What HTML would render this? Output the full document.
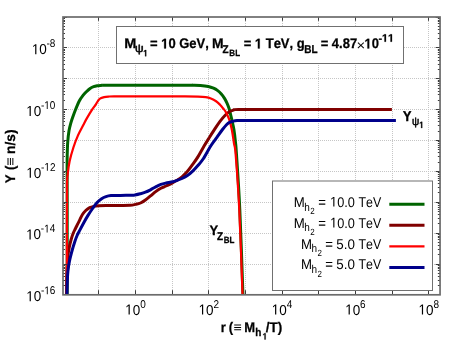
<!DOCTYPE html><html><head><meta charset="utf-8"><title>plot</title><style>
html,body{margin:0;padding:0;background:#fff;}svg{display:block;}
text{font-family:"Liberation Sans",sans-serif;fill:#000;text-rendering:geometricPrecision;font-kerning:none;}
.b{font-weight:bold;stroke:#000;stroke-width:0.25px;}
</style></head><body>
<svg width="463" height="354" viewBox="0 0 463 354">
<rect x="0" y="0" width="463" height="354" fill="#fff"/>
<g stroke="#c6c6c6" stroke-width="1" stroke-dasharray="1 1" fill="none" shape-rendering="crispEdges">
<line x1="98.50" y1="17.00" x2="98.50" y2="294.00"/>
<line x1="135.50" y1="17.00" x2="135.50" y2="294.00"/>
<line x1="172.50" y1="17.00" x2="172.50" y2="294.00"/>
<line x1="208.50" y1="17.00" x2="208.50" y2="294.00"/>
<line x1="245.50" y1="17.00" x2="245.50" y2="294.00"/>
<line x1="282.50" y1="17.00" x2="282.50" y2="294.00"/>
<line x1="318.50" y1="17.00" x2="318.50" y2="294.00"/>
<line x1="355.50" y1="17.00" x2="355.50" y2="294.00"/>
<line x1="392.50" y1="17.00" x2="392.50" y2="294.00"/>
<line x1="428.50" y1="17.00" x2="428.50" y2="294.00"/>
<line x1="64.00" y1="264.50" x2="439.00" y2="264.50"/>
<line x1="64.00" y1="233.50" x2="439.00" y2="233.50"/>
<line x1="64.00" y1="202.50" x2="439.00" y2="202.50"/>
<line x1="64.00" y1="171.50" x2="439.00" y2="171.50"/>
<line x1="64.00" y1="140.50" x2="439.00" y2="140.50"/>
<line x1="64.00" y1="109.50" x2="439.00" y2="109.50"/>
<line x1="64.00" y1="78.50" x2="439.00" y2="78.50"/>
<line x1="64.00" y1="47.50" x2="439.00" y2="47.50"/>
</g>
<defs><filter id="nf" x="0" y="0" width="463" height="354" filterUnits="userSpaceOnUse"><feOffset dx="0" dy="0"/></filter><clipPath id="cp"><rect x="63.00" y="17.00" width="377.05" height="277.80"/></clipPath></defs>
<g clip-path="url(#cp)" fill="none" stroke-linejoin="round" stroke-linecap="butt">
<path d="M67.20 296.00 C67.20 280.00 67.22 221.00 67.20 200.00 C67.18 179.00 67.10 177.33 67.10 170.00 C67.10 162.67 67.10 160.62 67.20 156.00 C67.30 151.38 67.40 146.50 67.70 142.30 C68.00 138.10 68.48 133.98 69.00 130.80 C69.52 127.62 70.17 125.50 70.80 123.20 C71.43 120.90 72.00 119.28 72.80 117.00 C73.60 114.72 74.50 112.22 75.60 109.50 C76.70 106.78 78.17 103.05 79.40 100.70 C80.63 98.35 81.83 96.90 83.00 95.40 C84.17 93.90 85.22 92.87 86.40 91.70 C87.58 90.53 88.90 89.23 90.10 88.40 C91.30 87.57 92.42 87.13 93.60 86.70 C94.78 86.27 96.02 86.01 97.20 85.80 C98.38 85.59 99.53 85.53 100.70 85.45 C101.87 85.38 99.32 85.37 104.20 85.35 C109.08 85.33 116.53 85.36 130.00 85.35 C143.47 85.34 174.53 85.31 185.00 85.30 C195.47 85.29 190.22 85.27 192.80 85.30 C195.38 85.33 197.92 85.30 200.50 85.50 C203.08 85.70 206.13 86.05 208.30 86.50 C210.47 86.95 211.98 87.55 213.50 88.20 C215.02 88.85 216.10 89.43 217.40 90.40 C218.70 91.37 220.12 92.67 221.30 94.00 C222.48 95.33 223.53 96.85 224.50 98.40 C225.47 99.95 226.35 101.67 227.10 103.30 C227.85 104.93 228.47 106.52 229.00 108.20 C229.53 109.88 229.78 111.28 230.30 113.40 C230.82 115.52 231.50 118.22 232.10 120.90 C232.70 123.58 233.35 126.05 233.90 129.50 C234.45 132.95 234.97 137.42 235.40 141.60 C235.83 145.78 235.77 143.27 236.50 154.60 C237.23 165.93 238.72 186.03 239.80 209.60 C240.88 233.17 242.47 281.60 243.00 296.00" stroke="#006400" stroke-width="3"/>
<path d="M66.50 296.00 C66.55 292.50 66.62 280.83 66.80 275.00 C66.98 269.17 67.38 264.50 67.60 261.00 C67.82 257.50 67.82 256.32 68.10 254.00 C68.38 251.68 68.82 249.43 69.30 247.10 C69.78 244.77 70.35 242.30 71.00 240.00 C71.65 237.70 72.45 235.22 73.20 233.30 C73.95 231.38 74.72 230.10 75.50 228.50 C76.28 226.90 77.15 225.22 77.90 223.70 C78.65 222.18 79.27 220.88 80.00 219.40 C80.73 217.92 81.34 216.28 82.30 214.80 C83.26 213.32 84.52 211.68 85.75 210.50 C86.98 209.32 88.38 208.38 89.70 207.70 C91.02 207.02 92.17 206.73 93.65 206.40 C95.13 206.07 96.54 205.87 98.60 205.70 C100.66 205.53 102.77 205.45 106.00 205.40 C109.23 205.35 114.00 205.42 118.00 205.40 C122.00 205.38 127.08 205.47 130.00 205.30 C132.92 205.13 133.75 204.78 135.50 204.40 C137.25 204.02 138.85 203.73 140.50 203.00 C142.15 202.27 143.73 201.18 145.40 200.00 C147.07 198.82 148.78 197.30 150.50 195.90 C152.22 194.50 153.97 192.87 155.70 191.60 C157.43 190.33 159.17 189.23 160.90 188.30 C162.63 187.37 164.37 186.78 166.10 186.00 C167.83 185.22 169.57 184.50 171.30 183.60 C173.03 182.70 174.72 181.73 176.50 180.60 C178.28 179.47 180.20 178.30 182.00 176.80 C183.80 175.30 185.55 173.62 187.30 171.60 C189.05 169.58 190.73 167.15 192.50 164.70 C194.27 162.25 195.97 160.02 197.90 156.90 C199.83 153.78 202.17 149.27 204.10 146.00 C206.03 142.73 207.68 140.18 209.50 137.30 C211.32 134.42 213.22 131.40 215.00 128.70 C216.78 126.00 218.50 123.35 220.20 121.10 C221.90 118.85 223.68 116.77 225.20 115.20 C226.72 113.63 227.92 112.55 229.30 111.70 C230.68 110.85 231.97 110.47 233.50 110.10 C235.03 109.73 231.58 109.61 238.50 109.50 C245.42 109.39 249.43 109.46 275.00 109.45 C300.57 109.44 372.42 109.45 391.90 109.45" stroke="#800000" stroke-width="3"/>
<path d="M66.90 296.00 C66.90 285.00 66.88 248.57 66.90 230.00 C66.92 211.43 66.85 194.03 67.00 184.60 C67.15 175.17 67.37 177.28 67.80 173.40 C68.23 169.52 68.67 165.62 69.60 161.30 C70.53 156.98 72.00 151.82 73.40 147.50 C74.80 143.18 76.35 139.15 78.00 135.40 C79.65 131.65 81.83 127.83 83.30 125.00 C84.77 122.17 85.33 120.95 86.80 118.40 C88.27 115.85 90.58 112.05 92.10 109.70 C93.62 107.35 94.78 105.97 95.90 104.30 C97.02 102.63 98.00 100.70 98.80 99.70 C99.60 98.70 99.80 98.73 100.70 98.30 C101.60 97.87 102.92 97.38 104.20 97.10 C105.48 96.82 106.77 96.72 108.40 96.60 C110.03 96.48 107.07 96.43 114.00 96.40 C120.93 96.37 138.17 96.40 150.00 96.40 C161.83 96.40 177.00 96.37 185.00 96.40 C193.00 96.43 194.55 96.47 198.00 96.60 C201.45 96.73 203.55 96.88 205.70 97.20 C207.85 97.52 209.17 97.83 210.90 98.50 C212.63 99.17 214.58 100.17 216.10 101.20 C217.62 102.23 218.82 103.48 220.00 104.70 C221.18 105.92 222.22 107.25 223.20 108.50 C224.18 109.75 224.92 110.42 225.90 112.20 C226.88 113.98 228.12 116.32 229.10 119.20 C230.08 122.08 230.98 125.47 231.80 129.50 C232.62 133.53 233.35 139.22 234.00 143.40 C234.65 147.58 234.82 143.57 235.70 154.60 C236.58 165.63 238.15 186.03 239.30 209.60 C240.45 233.17 242.05 281.60 242.60 296.00" stroke="#ff0000" stroke-width="2.25"/>
<path d="M66.90 296.00 C66.97 293.60 67.13 285.72 67.30 281.60 C67.47 277.48 67.53 274.75 67.90 271.30 C68.27 267.85 68.80 264.37 69.50 260.90 C70.20 257.43 71.23 253.67 72.10 250.50 C72.97 247.33 73.83 244.48 74.70 241.90 C75.57 239.32 76.58 236.68 77.30 235.00 C78.02 233.32 77.97 233.77 79.00 231.80 C80.03 229.83 82.00 225.93 83.50 223.20 C85.00 220.47 86.48 217.85 88.00 215.40 C89.52 212.95 91.08 210.65 92.60 208.50 C94.12 206.35 95.60 204.13 97.10 202.50 C98.60 200.87 100.12 199.68 101.60 198.70 C103.08 197.72 104.43 197.12 106.00 196.60 C107.57 196.08 108.60 195.80 111.00 195.60 C113.40 195.40 116.82 195.45 120.40 195.40 C123.98 195.35 130.07 195.37 132.50 195.30 C134.93 195.23 133.72 195.25 135.00 195.00 C136.28 194.75 138.47 194.27 140.20 193.80 C141.93 193.33 143.68 192.87 145.40 192.20 C147.12 191.53 148.78 190.70 150.50 189.80 C152.22 188.90 153.97 187.70 155.70 186.80 C157.43 185.90 159.17 185.03 160.90 184.40 C162.63 183.77 164.37 183.40 166.10 183.00 C167.83 182.60 169.57 182.40 171.30 182.00 C173.03 181.60 174.72 181.18 176.50 180.60 C178.28 180.02 180.18 179.33 182.00 178.50 C183.82 177.67 185.62 176.83 187.40 175.60 C189.18 174.37 190.95 172.78 192.70 171.10 C194.45 169.42 196.17 167.52 197.90 165.50 C199.63 163.48 200.97 162.25 203.10 159.00 C205.23 155.75 208.40 149.62 210.70 146.00 C213.00 142.38 214.93 140.05 216.90 137.30 C218.87 134.55 220.90 131.60 222.50 129.50 C224.10 127.40 225.25 125.92 226.50 124.70 C227.75 123.48 228.83 122.80 230.00 122.20 C231.17 121.60 232.33 121.37 233.50 121.10 C234.67 120.83 235.75 120.71 237.00 120.60 C238.25 120.49 238.83 120.45 241.00 120.42 C243.17 120.39 244.33 120.40 250.00 120.40 C255.67 120.40 250.68 120.40 275.00 120.40 C299.32 120.40 375.75 120.40 395.90 120.40" stroke="#00008b" stroke-width="3"/>
</g>
<g stroke="#3c3c3c" stroke-width="1" fill="none">
<line x1="63.00" y1="294.50" x2="67.00" y2="294.50"/>
<line x1="440.05" y1="294.50" x2="435.65" y2="294.50"/>
<line x1="63.00" y1="285.50" x2="65.00" y2="285.50"/>
<line x1="440.05" y1="285.50" x2="437.85" y2="285.50"/>
<line x1="63.00" y1="280.50" x2="65.00" y2="280.50"/>
<line x1="440.05" y1="280.50" x2="437.85" y2="280.50"/>
<line x1="63.00" y1="276.50" x2="65.00" y2="276.50"/>
<line x1="440.05" y1="276.50" x2="437.85" y2="276.50"/>
<line x1="63.00" y1="273.50" x2="65.00" y2="273.50"/>
<line x1="440.05" y1="273.50" x2="437.85" y2="273.50"/>
<line x1="63.00" y1="270.50" x2="65.00" y2="270.50"/>
<line x1="440.05" y1="270.50" x2="437.85" y2="270.50"/>
<line x1="63.00" y1="268.50" x2="65.00" y2="268.50"/>
<line x1="440.05" y1="268.50" x2="437.85" y2="268.50"/>
<line x1="63.00" y1="267.50" x2="65.00" y2="267.50"/>
<line x1="440.05" y1="267.50" x2="437.85" y2="267.50"/>
<line x1="63.00" y1="265.50" x2="65.00" y2="265.50"/>
<line x1="440.05" y1="265.50" x2="437.85" y2="265.50"/>
<line x1="63.00" y1="264.50" x2="67.00" y2="264.50"/>
<line x1="440.05" y1="264.50" x2="435.65" y2="264.50"/>
<line x1="63.00" y1="254.50" x2="65.00" y2="254.50"/>
<line x1="440.05" y1="254.50" x2="437.85" y2="254.50"/>
<line x1="63.00" y1="249.50" x2="65.00" y2="249.50"/>
<line x1="440.05" y1="249.50" x2="437.85" y2="249.50"/>
<line x1="63.00" y1="245.50" x2="65.00" y2="245.50"/>
<line x1="440.05" y1="245.50" x2="437.85" y2="245.50"/>
<line x1="63.00" y1="242.50" x2="65.00" y2="242.50"/>
<line x1="440.05" y1="242.50" x2="437.85" y2="242.50"/>
<line x1="63.00" y1="239.50" x2="65.00" y2="239.50"/>
<line x1="440.05" y1="239.50" x2="437.85" y2="239.50"/>
<line x1="63.00" y1="237.50" x2="65.00" y2="237.50"/>
<line x1="440.05" y1="237.50" x2="437.85" y2="237.50"/>
<line x1="63.00" y1="236.50" x2="65.00" y2="236.50"/>
<line x1="440.05" y1="236.50" x2="437.85" y2="236.50"/>
<line x1="63.00" y1="234.50" x2="65.00" y2="234.50"/>
<line x1="440.05" y1="234.50" x2="437.85" y2="234.50"/>
<line x1="63.00" y1="233.50" x2="67.00" y2="233.50"/>
<line x1="440.05" y1="233.50" x2="435.65" y2="233.50"/>
<line x1="63.00" y1="223.50" x2="65.00" y2="223.50"/>
<line x1="440.05" y1="223.50" x2="437.85" y2="223.50"/>
<line x1="63.00" y1="218.50" x2="65.00" y2="218.50"/>
<line x1="440.05" y1="218.50" x2="437.85" y2="218.50"/>
<line x1="63.00" y1="214.50" x2="65.00" y2="214.50"/>
<line x1="440.05" y1="214.50" x2="437.85" y2="214.50"/>
<line x1="63.00" y1="211.50" x2="65.00" y2="211.50"/>
<line x1="440.05" y1="211.50" x2="437.85" y2="211.50"/>
<line x1="63.00" y1="209.50" x2="65.00" y2="209.50"/>
<line x1="440.05" y1="209.50" x2="437.85" y2="209.50"/>
<line x1="63.00" y1="207.50" x2="65.00" y2="207.50"/>
<line x1="440.05" y1="207.50" x2="437.85" y2="207.50"/>
<line x1="63.00" y1="205.50" x2="65.00" y2="205.50"/>
<line x1="440.05" y1="205.50" x2="437.85" y2="205.50"/>
<line x1="63.00" y1="203.50" x2="65.00" y2="203.50"/>
<line x1="440.05" y1="203.50" x2="437.85" y2="203.50"/>
<line x1="63.00" y1="202.50" x2="67.00" y2="202.50"/>
<line x1="440.05" y1="202.50" x2="435.65" y2="202.50"/>
<line x1="63.00" y1="192.50" x2="65.00" y2="192.50"/>
<line x1="440.05" y1="192.50" x2="437.85" y2="192.50"/>
<line x1="63.00" y1="187.50" x2="65.00" y2="187.50"/>
<line x1="440.05" y1="187.50" x2="437.85" y2="187.50"/>
<line x1="63.00" y1="183.50" x2="65.00" y2="183.50"/>
<line x1="440.05" y1="183.50" x2="437.85" y2="183.50"/>
<line x1="63.00" y1="180.50" x2="65.00" y2="180.50"/>
<line x1="440.05" y1="180.50" x2="437.85" y2="180.50"/>
<line x1="63.00" y1="178.50" x2="65.00" y2="178.50"/>
<line x1="440.05" y1="178.50" x2="437.85" y2="178.50"/>
<line x1="63.00" y1="176.50" x2="65.00" y2="176.50"/>
<line x1="440.05" y1="176.50" x2="437.85" y2="176.50"/>
<line x1="63.00" y1="174.50" x2="65.00" y2="174.50"/>
<line x1="440.05" y1="174.50" x2="437.85" y2="174.50"/>
<line x1="63.00" y1="172.50" x2="65.00" y2="172.50"/>
<line x1="440.05" y1="172.50" x2="437.85" y2="172.50"/>
<line x1="63.00" y1="171.50" x2="67.00" y2="171.50"/>
<line x1="440.05" y1="171.50" x2="435.65" y2="171.50"/>
<line x1="63.00" y1="162.50" x2="65.00" y2="162.50"/>
<line x1="440.05" y1="162.50" x2="437.85" y2="162.50"/>
<line x1="63.00" y1="156.50" x2="65.00" y2="156.50"/>
<line x1="440.05" y1="156.50" x2="437.85" y2="156.50"/>
<line x1="63.00" y1="152.50" x2="65.00" y2="152.50"/>
<line x1="440.05" y1="152.50" x2="437.85" y2="152.50"/>
<line x1="63.00" y1="149.50" x2="65.00" y2="149.50"/>
<line x1="440.05" y1="149.50" x2="437.85" y2="149.50"/>
<line x1="63.00" y1="147.50" x2="65.00" y2="147.50"/>
<line x1="440.05" y1="147.50" x2="437.85" y2="147.50"/>
<line x1="63.00" y1="145.50" x2="65.00" y2="145.50"/>
<line x1="440.05" y1="145.50" x2="437.85" y2="145.50"/>
<line x1="63.00" y1="143.50" x2="65.00" y2="143.50"/>
<line x1="440.05" y1="143.50" x2="437.85" y2="143.50"/>
<line x1="63.00" y1="141.50" x2="65.00" y2="141.50"/>
<line x1="440.05" y1="141.50" x2="437.85" y2="141.50"/>
<line x1="63.00" y1="140.50" x2="67.00" y2="140.50"/>
<line x1="440.05" y1="140.50" x2="435.65" y2="140.50"/>
<line x1="63.00" y1="131.50" x2="65.00" y2="131.50"/>
<line x1="440.05" y1="131.50" x2="437.85" y2="131.50"/>
<line x1="63.00" y1="125.50" x2="65.00" y2="125.50"/>
<line x1="440.05" y1="125.50" x2="437.85" y2="125.50"/>
<line x1="63.00" y1="121.50" x2="65.00" y2="121.50"/>
<line x1="440.05" y1="121.50" x2="437.85" y2="121.50"/>
<line x1="63.00" y1="118.50" x2="65.00" y2="118.50"/>
<line x1="440.05" y1="118.50" x2="437.85" y2="118.50"/>
<line x1="63.00" y1="116.50" x2="65.00" y2="116.50"/>
<line x1="440.05" y1="116.50" x2="437.85" y2="116.50"/>
<line x1="63.00" y1="114.50" x2="65.00" y2="114.50"/>
<line x1="440.05" y1="114.50" x2="437.85" y2="114.50"/>
<line x1="63.00" y1="112.50" x2="65.00" y2="112.50"/>
<line x1="440.05" y1="112.50" x2="437.85" y2="112.50"/>
<line x1="63.00" y1="111.50" x2="65.00" y2="111.50"/>
<line x1="440.05" y1="111.50" x2="437.85" y2="111.50"/>
<line x1="63.00" y1="109.50" x2="67.00" y2="109.50"/>
<line x1="440.05" y1="109.50" x2="435.65" y2="109.50"/>
<line x1="63.00" y1="100.50" x2="65.00" y2="100.50"/>
<line x1="440.05" y1="100.50" x2="437.85" y2="100.50"/>
<line x1="63.00" y1="94.50" x2="65.00" y2="94.50"/>
<line x1="440.05" y1="94.50" x2="437.85" y2="94.50"/>
<line x1="63.00" y1="91.50" x2="65.00" y2="91.50"/>
<line x1="440.05" y1="91.50" x2="437.85" y2="91.50"/>
<line x1="63.00" y1="88.50" x2="65.00" y2="88.50"/>
<line x1="440.05" y1="88.50" x2="437.85" y2="88.50"/>
<line x1="63.00" y1="85.50" x2="65.00" y2="85.50"/>
<line x1="440.05" y1="85.50" x2="437.85" y2="85.50"/>
<line x1="63.00" y1="83.50" x2="65.00" y2="83.50"/>
<line x1="440.05" y1="83.50" x2="437.85" y2="83.50"/>
<line x1="63.00" y1="81.50" x2="65.00" y2="81.50"/>
<line x1="440.05" y1="81.50" x2="437.85" y2="81.50"/>
<line x1="63.00" y1="80.50" x2="65.00" y2="80.50"/>
<line x1="440.05" y1="80.50" x2="437.85" y2="80.50"/>
<line x1="63.00" y1="78.50" x2="67.00" y2="78.50"/>
<line x1="440.05" y1="78.50" x2="435.65" y2="78.50"/>
<line x1="63.00" y1="69.50" x2="65.00" y2="69.50"/>
<line x1="440.05" y1="69.50" x2="437.85" y2="69.50"/>
<line x1="63.00" y1="64.50" x2="65.00" y2="64.50"/>
<line x1="440.05" y1="64.50" x2="437.85" y2="64.50"/>
<line x1="63.00" y1="60.50" x2="65.00" y2="60.50"/>
<line x1="440.05" y1="60.50" x2="437.85" y2="60.50"/>
<line x1="63.00" y1="57.50" x2="65.00" y2="57.50"/>
<line x1="440.05" y1="57.50" x2="437.85" y2="57.50"/>
<line x1="63.00" y1="54.50" x2="65.00" y2="54.50"/>
<line x1="440.05" y1="54.50" x2="437.85" y2="54.50"/>
<line x1="63.00" y1="52.50" x2="65.00" y2="52.50"/>
<line x1="440.05" y1="52.50" x2="437.85" y2="52.50"/>
<line x1="63.00" y1="50.50" x2="65.00" y2="50.50"/>
<line x1="440.05" y1="50.50" x2="437.85" y2="50.50"/>
<line x1="63.00" y1="49.50" x2="65.00" y2="49.50"/>
<line x1="440.05" y1="49.50" x2="437.85" y2="49.50"/>
<line x1="63.00" y1="47.50" x2="67.00" y2="47.50"/>
<line x1="440.05" y1="47.50" x2="435.65" y2="47.50"/>
<line x1="63.00" y1="38.50" x2="65.00" y2="38.50"/>
<line x1="440.05" y1="38.50" x2="437.85" y2="38.50"/>
<line x1="63.00" y1="33.50" x2="65.00" y2="33.50"/>
<line x1="440.05" y1="33.50" x2="437.85" y2="33.50"/>
<line x1="63.00" y1="29.50" x2="65.00" y2="29.50"/>
<line x1="440.05" y1="29.50" x2="437.85" y2="29.50"/>
<line x1="63.00" y1="26.50" x2="65.00" y2="26.50"/>
<line x1="440.05" y1="26.50" x2="437.85" y2="26.50"/>
<line x1="63.00" y1="23.50" x2="65.00" y2="23.50"/>
<line x1="440.05" y1="23.50" x2="437.85" y2="23.50"/>
<line x1="63.00" y1="21.50" x2="65.00" y2="21.50"/>
<line x1="440.05" y1="21.50" x2="437.85" y2="21.50"/>
<line x1="63.00" y1="20.50" x2="65.00" y2="20.50"/>
<line x1="440.05" y1="20.50" x2="437.85" y2="20.50"/>
<line x1="63.00" y1="18.50" x2="65.00" y2="18.50"/>
<line x1="440.05" y1="18.50" x2="437.85" y2="18.50"/>
<line x1="63.00" y1="17.50" x2="67.00" y2="17.50"/>
<line x1="440.05" y1="17.50" x2="435.65" y2="17.50"/>
<line x1="98.50" y1="294.80" x2="98.50" y2="290.20"/>
<line x1="98.50" y1="17.00" x2="98.50" y2="20.80"/>
<line x1="135.50" y1="294.80" x2="135.50" y2="290.20"/>
<line x1="135.50" y1="17.00" x2="135.50" y2="20.80"/>
<line x1="172.50" y1="294.80" x2="172.50" y2="290.20"/>
<line x1="172.50" y1="17.00" x2="172.50" y2="20.80"/>
<line x1="208.50" y1="294.80" x2="208.50" y2="290.20"/>
<line x1="208.50" y1="17.00" x2="208.50" y2="20.80"/>
<line x1="245.50" y1="294.80" x2="245.50" y2="290.20"/>
<line x1="245.50" y1="17.00" x2="245.50" y2="20.80"/>
<line x1="282.50" y1="294.80" x2="282.50" y2="290.20"/>
<line x1="282.50" y1="17.00" x2="282.50" y2="20.80"/>
<line x1="318.50" y1="294.80" x2="318.50" y2="290.20"/>
<line x1="318.50" y1="17.00" x2="318.50" y2="20.80"/>
<line x1="355.50" y1="294.80" x2="355.50" y2="290.20"/>
<line x1="355.50" y1="17.00" x2="355.50" y2="20.80"/>
<line x1="392.50" y1="294.80" x2="392.50" y2="290.20"/>
<line x1="392.50" y1="17.00" x2="392.50" y2="20.80"/>
<line x1="428.50" y1="294.80" x2="428.50" y2="290.20"/>
<line x1="428.50" y1="17.00" x2="428.50" y2="20.80"/>
</g>
<rect x="63.00" y="17.00" width="377.05" height="277.80" fill="none" stroke="#6c6c6c" stroke-width="1.7"/>
<rect x="116.5" y="26.5" width="287" height="37" fill="#fff" stroke="#707070" stroke-width="1"/>
<rect x="272.5" y="181" width="160" height="109.5" fill="#fff" stroke="#707070" stroke-width="1"/>
<g filter="url(#nf)">
<g class="t" transform="translate(40.99,294.20) scale(1.000,1.130)"><text x="0.00" y="0" font-size="10" xml:space="preserve">-</text><path transform="translate(3.33,0) scale(0.00488,-0.00488)" d="M515 0V1237L197 1010V1180L530 1409H696V0Z"/><text x="8.89" y="0" font-size="10" xml:space="preserve">6</text></g>
<g class="t" transform="translate(26.24,301.20) scale(1.000,1.070)"><path transform="translate(0.00,0) scale(0.00659,-0.00659)" d="M515 0V1237L197 1010V1180L530 1409H696V0Z"/><text x="7.51" y="0" font-size="13.5" xml:space="preserve">0</text></g>
<g class="t" transform="translate(40.84,232.45) scale(1.000,1.130)"><text x="0.00" y="0" font-size="10" xml:space="preserve">-</text><path transform="translate(3.33,0) scale(0.00488,-0.00488)" d="M515 0V1237L197 1010V1180L530 1409H696V0Z"/><text x="8.89" y="0" font-size="10" xml:space="preserve">4</text></g>
<g class="t" transform="translate(26.10,239.45) scale(1.000,1.070)"><path transform="translate(0.00,0) scale(0.00659,-0.00659)" d="M515 0V1237L197 1010V1180L530 1409H696V0Z"/><text x="7.51" y="0" font-size="13.5" xml:space="preserve">0</text></g>
<g class="t" transform="translate(41.05,170.70) scale(1.000,1.130)"><text x="0.00" y="0" font-size="10" xml:space="preserve">-</text><path transform="translate(3.33,0) scale(0.00488,-0.00488)" d="M515 0V1237L197 1010V1180L530 1409H696V0Z"/><text x="8.89" y="0" font-size="10" xml:space="preserve">2</text></g>
<g class="t" transform="translate(26.31,177.70) scale(1.000,1.070)"><path transform="translate(0.00,0) scale(0.00659,-0.00659)" d="M515 0V1237L197 1010V1180L530 1409H696V0Z"/><text x="7.51" y="0" font-size="13.5" xml:space="preserve">0</text></g>
<g class="t" transform="translate(40.94,108.95) scale(1.000,1.130)"><text x="0.00" y="0" font-size="10" xml:space="preserve">-</text><path transform="translate(3.33,0) scale(0.00488,-0.00488)" d="M515 0V1237L197 1010V1180L530 1409H696V0Z"/><text x="8.89" y="0" font-size="10" xml:space="preserve">0</text></g>
<g class="t" transform="translate(26.19,115.95) scale(1.000,1.070)"><path transform="translate(0.00,0) scale(0.00659,-0.00659)" d="M515 0V1237L197 1010V1180L530 1409H696V0Z"/><text x="7.51" y="0" font-size="13.5" xml:space="preserve">0</text></g>
<g class="t" transform="translate(46.54,47.20) scale(1.000,1.130)"><text x="0.00" y="0" font-size="10" xml:space="preserve">-8</text></g>
<g class="t" transform="translate(31.80,54.20) scale(1.000,1.070)"><path transform="translate(0.00,0) scale(0.00659,-0.00659)" d="M515 0V1237L197 1010V1180L530 1409H696V0Z"/><text x="7.51" y="0" font-size="13.5" xml:space="preserve">0</text></g>
<g class="t" transform="translate(125.17,314.50) scale(1.000,1.070)"><path transform="translate(0.00,0) scale(0.00659,-0.00659)" d="M515 0V1237L197 1010V1180L530 1409H696V0Z"/><text x="7.51" y="0" font-size="13.5" xml:space="preserve">0</text></g>
<g class="t" transform="translate(140.16,308.00) scale(1.000,1.130)"><text x="0.00" y="0" font-size="10" xml:space="preserve">0</text></g>
<g class="t" transform="translate(198.60,314.50) scale(1.000,1.070)"><path transform="translate(0.00,0) scale(0.00659,-0.00659)" d="M515 0V1237L197 1010V1180L530 1409H696V0Z"/><text x="7.51" y="0" font-size="13.5" xml:space="preserve">0</text></g>
<g class="t" transform="translate(213.48,308.00) scale(1.000,1.130)"><text x="0.00" y="0" font-size="10" xml:space="preserve">2</text></g>
<g class="t" transform="translate(271.68,314.50) scale(1.000,1.070)"><path transform="translate(0.00,0) scale(0.00659,-0.00659)" d="M515 0V1237L197 1010V1180L530 1409H696V0Z"/><text x="7.51" y="0" font-size="13.5" xml:space="preserve">0</text></g>
<g class="t" transform="translate(286.84,308.00) scale(1.000,1.130)"><text x="0.00" y="0" font-size="10" xml:space="preserve">4</text></g>
<g class="t" transform="translate(345.21,314.50) scale(1.000,1.070)"><path transform="translate(0.00,0) scale(0.00659,-0.00659)" d="M515 0V1237L197 1010V1180L530 1409H696V0Z"/><text x="7.51" y="0" font-size="13.5" xml:space="preserve">0</text></g>
<g class="t" transform="translate(360.09,308.00) scale(1.000,1.130)"><text x="0.00" y="0" font-size="10" xml:space="preserve">6</text></g>
<g class="t" transform="translate(418.49,314.50) scale(1.000,1.070)"><path transform="translate(0.00,0) scale(0.00659,-0.00659)" d="M515 0V1237L197 1010V1180L530 1409H696V0Z"/><text x="7.51" y="0" font-size="13.5" xml:space="preserve">0</text></g>
<g class="t" transform="translate(433.44,308.00) scale(1.000,1.130)"><text x="0.00" y="0" font-size="10" xml:space="preserve">8</text></g>
<g class="t" transform="translate(14.6,183.3) rotate(-90) translate(0.08,0.00) scale(1.000,1.070)"><text x="0.00" y="0" font-size="13" xml:space="preserve" class="b">Y</text></g>
<g class="t" transform="translate(14.6,183.3) rotate(-90) translate(13.25,0.00) scale(1.000,1.070)"><text x="0.00" y="0" font-size="13" xml:space="preserve" class="b">(</text></g>
<g class="t" transform="translate(14.6,183.3) rotate(-90) translate(17.60,0.00) scale(1.108,1.070)"><text x="0.00" y="0" font-size="13" xml:space="preserve">≡</text></g>
<g class="t" transform="translate(14.6,183.3) rotate(-90) translate(29.39,0.00) scale(1.060,1.070)"><text x="0.00" y="0" font-size="13" xml:space="preserve" class="b">n/s)</text></g>
<g class="t" transform="translate(220.74,332.30) scale(1.000,1.070)"><text x="0.00" y="0" font-size="13" xml:space="preserve" class="b">r</text></g>
<g class="t" transform="translate(228.75,332.30) scale(1.000,1.070)"><text x="0.00" y="0" font-size="13" xml:space="preserve" class="b">(</text></g>
<g class="t" transform="translate(233.41,332.30) scale(1.092,1.070)"><text x="0.00" y="0" font-size="13" xml:space="preserve">≡</text></g>
<g class="t" transform="translate(244.13,332.30) scale(1.000,1.070)"><text x="0.00" y="0" font-size="13" xml:space="preserve" class="b">M</text></g>
<g class="t" transform="translate(255.20,336.00) scale(1.000,1.130)"><text x="0.00" y="0" font-size="10" xml:space="preserve" class="b">h</text></g>
<g class="t" transform="translate(262.65,339.50) scale(1.000,1.130)"><path transform="translate(0.00,0) scale(0.00391,-0.00391)" d="M478 0V1170L140 959V1180L493 1409H759V0Z" stroke="#000" stroke-width="64"/></g>
<g class="t" transform="translate(265.87,332.30) scale(1.039,1.070)"><text x="0.00" y="0" font-size="13" xml:space="preserve" class="b">/T)</text></g>
<g class="t" transform="translate(124.23,48.40) scale(1.111,1.070)"><text x="0.00" y="0" font-size="13" xml:space="preserve" class="b">M</text></g>
<g class="t" transform="translate(135.11,52.20) scale(1.206,1.120)"><text x="0.00" y="0" font-size="10" xml:space="preserve" style="stroke:#000;stroke-width:0.45px">ψ</text></g>
<g class="t" transform="translate(143.25,56.30) scale(1.000,1.130)"><path transform="translate(0.00,0) scale(0.00391,-0.00391)" d="M478 0V1170L140 959V1180L493 1409H759V0Z" stroke="#000" stroke-width="64"/></g>
<g class="t" transform="translate(149.96,48.40) scale(1.000,1.070)"><text x="0.00" y="0" font-size="13" xml:space="preserve" class="b">= </text><path transform="translate(11.20,0) scale(0.00635,-0.00635)" d="M478 0V1170L140 959V1180L493 1409H759V0Z" stroke="#000" stroke-width="39"/><text x="18.43" y="0" font-size="13" xml:space="preserve" class="b">0 GeV,</text></g>
<g class="t" transform="translate(211.97,48.40) scale(1.067,1.070)"><text x="0.00" y="0" font-size="13" xml:space="preserve" class="b">M</text></g>
<g class="t" transform="translate(222.60,52.70) scale(1.000,1.130)"><text x="0.00" y="0" font-size="10" xml:space="preserve" class="b">Z</text></g>
<g class="t" transform="translate(229.36,56.30) scale(1.000,1.130)"><text x="0.00" y="0" font-size="8" xml:space="preserve" class="b">BL</text></g>
<g class="t" transform="translate(243.66,48.40) scale(1.000,1.070)"><text x="0.00" y="0" font-size="13" xml:space="preserve" class="b">= </text><path transform="translate(11.20,0) scale(0.00635,-0.00635)" d="M478 0V1170L140 959V1180L493 1409H759V0Z" stroke="#000" stroke-width="39"/><text x="18.43" y="0" font-size="13" xml:space="preserve" class="b"> TeV,</text></g>
<g class="t" transform="translate(296.67,48.40) scale(1.000,1.070)"><text x="0.00" y="0" font-size="13" xml:space="preserve" class="b">g</text></g>
<g class="t" transform="translate(304.23,52.70) scale(1.000,1.130)"><text x="0.00" y="0" font-size="10" xml:space="preserve" class="b">BL</text></g>
<g class="t" transform="translate(320.66,48.40) scale(1.000,1.070)"><text x="0.00" y="0" font-size="13" xml:space="preserve" class="b">= 4.87</text></g>
<g class="t" transform="translate(356.57,50.30) scale(1.139,1.070)"><text x="0.00" y="0" font-size="13" xml:space="preserve">×</text></g>
<g class="t" transform="translate(364.41,48.40) scale(1.000,1.070)"><path transform="translate(0.00,0) scale(0.00635,-0.00635)" d="M478 0V1170L140 959V1180L493 1409H759V0Z" stroke="#000" stroke-width="39"/><text x="7.23" y="0" font-size="13" xml:space="preserve" class="b">0</text></g>
<g class="t" transform="translate(378.38,41.70) scale(1.081,1.070)"><text x="0.00" y="0" font-size="10" xml:space="preserve" class="b">-</text><path transform="translate(3.33,0) scale(0.00488,-0.00488)" d="M478 0V1170L140 959V1180L493 1409H759V0Z" stroke="#000" stroke-width="51"/><path transform="translate(8.89,0) scale(0.00488,-0.00488)" d="M478 0V1170L140 959V1180L493 1409H759V0Z" stroke="#000" stroke-width="51"/></g>
<g class="t" transform="translate(403.08,120.90) scale(0.970,1.100)"><text x="0.00" y="0" font-size="13" xml:space="preserve" class="b" style="stroke:#000;stroke-width:0.4px">Y</text></g>
<g class="t" transform="translate(412.03,125.20) scale(1.016,1.120)"><text x="0.00" y="0" font-size="10" xml:space="preserve" style="stroke:#000;stroke-width:0.45px">ψ</text></g>
<g class="t" transform="translate(419.25,128.00) scale(1.000,1.130)"><path transform="translate(0.00,0) scale(0.00391,-0.00391)" d="M478 0V1170L140 959V1180L493 1409H759V0Z" stroke="#000" stroke-width="64"/></g>
<g class="t" transform="translate(209.58,234.50) scale(1.000,1.070)"><text x="0.00" y="0" font-size="13" xml:space="preserve" class="b">Y</text></g>
<g class="t" transform="translate(216.90,239.80) scale(1.000,1.130)"><text x="0.00" y="0" font-size="10" xml:space="preserve" class="b">Z</text></g>
<g class="t" transform="translate(223.76,242.50) scale(1.000,1.130)"><text x="0.00" y="0" font-size="8" xml:space="preserve" class="b">BL</text></g>
<g class="t" transform="translate(293.82,206.60) scale(1.000,1.070)"><text x="0.00" y="0" font-size="13.2" xml:space="preserve">M</text></g>
<g class="t" transform="translate(304.21,210.50) scale(1.000,1.130)"><text x="0.00" y="0" font-size="10" xml:space="preserve">h</text></g>
<g class="t" transform="translate(310.30,214.00) scale(1.000,1.130)"><text x="0.00" y="0" font-size="8" xml:space="preserve">2</text></g>
<g class="t" transform="translate(318.16,206.60) scale(1.000,1.070)"><text x="0.00" y="0" font-size="13.2" xml:space="preserve">=</text></g>
<g class="t" transform="translate(330.07,206.60) scale(0.966,1.070)"><path transform="translate(0.00,0) scale(0.00645,-0.00645)" d="M515 0V1237L197 1010V1180L530 1409H696V0Z"/><text x="7.34" y="0" font-size="13.2" xml:space="preserve">0.0</text></g>
<g class="t" transform="translate(358.52,206.60) scale(0.939,1.070)"><text x="0.00" y="0" font-size="13.2" xml:space="preserve">TeV</text></g>
<line x1="389.3" y1="204.30" x2="424.5" y2="204.30" stroke="#006400" stroke-width="3"/>
<g class="t" transform="translate(293.82,227.55) scale(1.000,1.070)"><text x="0.00" y="0" font-size="13.2" xml:space="preserve">M</text></g>
<g class="t" transform="translate(304.21,231.45) scale(1.000,1.130)"><text x="0.00" y="0" font-size="10" xml:space="preserve">h</text></g>
<g class="t" transform="translate(310.30,234.95) scale(1.000,1.130)"><text x="0.00" y="0" font-size="8" xml:space="preserve">2</text></g>
<g class="t" transform="translate(318.16,227.55) scale(1.000,1.070)"><text x="0.00" y="0" font-size="13.2" xml:space="preserve">=</text></g>
<g class="t" transform="translate(330.07,227.55) scale(0.966,1.070)"><path transform="translate(0.00,0) scale(0.00645,-0.00645)" d="M515 0V1237L197 1010V1180L530 1409H696V0Z"/><text x="7.34" y="0" font-size="13.2" xml:space="preserve">0.0</text></g>
<g class="t" transform="translate(358.52,227.55) scale(0.939,1.070)"><text x="0.00" y="0" font-size="13.2" xml:space="preserve">TeV</text></g>
<line x1="389.3" y1="225.33" x2="424.5" y2="225.33" stroke="#800000" stroke-width="3"/>
<g class="t" transform="translate(301.02,248.50) scale(1.000,1.070)"><text x="0.00" y="0" font-size="13.2" xml:space="preserve">M</text></g>
<g class="t" transform="translate(311.41,252.40) scale(1.000,1.130)"><text x="0.00" y="0" font-size="10" xml:space="preserve">h</text></g>
<g class="t" transform="translate(317.50,255.90) scale(1.000,1.130)"><text x="0.00" y="0" font-size="8" xml:space="preserve">2</text></g>
<g class="t" transform="translate(325.36,248.50) scale(1.000,1.070)"><text x="0.00" y="0" font-size="13.2" xml:space="preserve">=</text></g>
<g class="t" transform="translate(336.26,248.50) scale(1.017,1.070)"><text x="0.00" y="0" font-size="13.2" xml:space="preserve">5.0</text></g>
<g class="t" transform="translate(358.52,248.50) scale(0.939,1.070)"><text x="0.00" y="0" font-size="13.2" xml:space="preserve">TeV</text></g>
<line x1="389.3" y1="246.36" x2="424.5" y2="246.36" stroke="#ff0000" stroke-width="2.3"/>
<g class="t" transform="translate(301.02,269.45) scale(1.000,1.070)"><text x="0.00" y="0" font-size="13.2" xml:space="preserve">M</text></g>
<g class="t" transform="translate(311.41,273.35) scale(1.000,1.130)"><text x="0.00" y="0" font-size="10" xml:space="preserve">h</text></g>
<g class="t" transform="translate(317.50,276.85) scale(1.000,1.130)"><text x="0.00" y="0" font-size="8" xml:space="preserve">2</text></g>
<g class="t" transform="translate(325.36,269.45) scale(1.000,1.070)"><text x="0.00" y="0" font-size="13.2" xml:space="preserve">=</text></g>
<g class="t" transform="translate(336.26,269.45) scale(1.017,1.070)"><text x="0.00" y="0" font-size="13.2" xml:space="preserve">5.0</text></g>
<g class="t" transform="translate(358.52,269.45) scale(0.939,1.070)"><text x="0.00" y="0" font-size="13.2" xml:space="preserve">TeV</text></g>
<line x1="389.3" y1="267.39" x2="424.5" y2="267.39" stroke="#00008b" stroke-width="3"/>
</g>
</svg></body></html>
